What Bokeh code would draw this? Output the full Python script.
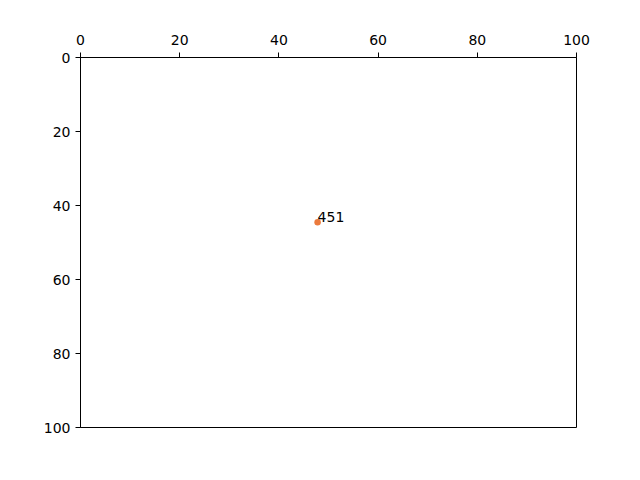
from bokeh.plotting import figure
from bokeh.models import Range1d, FixedTicker, ColumnDataSource
from bokeh.core.properties import value
from bokeh.embed import file_html
from bokeh.resources import INLINE

xs = [47.8]
ys = [44.5]
labels = ["451"]
ticks = [0, 20, 40, 60, 80, 100]

src = ColumnDataSource(dict(x=xs, y=ys, t=labels))

p = figure(output_backend="svg", toolbar_location=None,
           frame_width=496, frame_height=370,
           min_border_left=80, min_border_right=56,
           min_border_top=57, min_border_bottom=45,
           x_range=Range1d(0, 100), y_range=Range1d(100, 0),
           x_axis_location="above")
p.grid.visible = False
p.outline_line_color = "black"
p.outline_line_width = 1
p.background_fill_color = "white"
p.border_fill_color = "white"

for ax in (p.xaxis[0], p.yaxis[0]):
    ax.ticker = FixedTicker(ticks=ticks)
    ax.minor_tick_line_color = None
    ax.major_tick_in = 0
    ax.major_tick_out = 5
    ax.major_label_standoff = 5
    ax.major_label_text_font = "DejaVu Sans"
    ax.major_label_text_font_size = "14px"
    ax.major_label_text_color = "black"
    ax.axis_line_color = "black"
    ax.major_tick_line_color = "black"
p.xaxis[0].major_label_standoff = 8

p.scatter("x", "y", source=src, size=6.5, color="#eb7a3d", line_color=None)
p.text("x", "y", text="t", source=src, text_font=value("DejaVu Sans"),
       text_font_size="14px", text_baseline="bottom", text_align="left",
       y_offset=0, text_color="black")

open("out.html", "w").write(file_html(p, INLINE))
